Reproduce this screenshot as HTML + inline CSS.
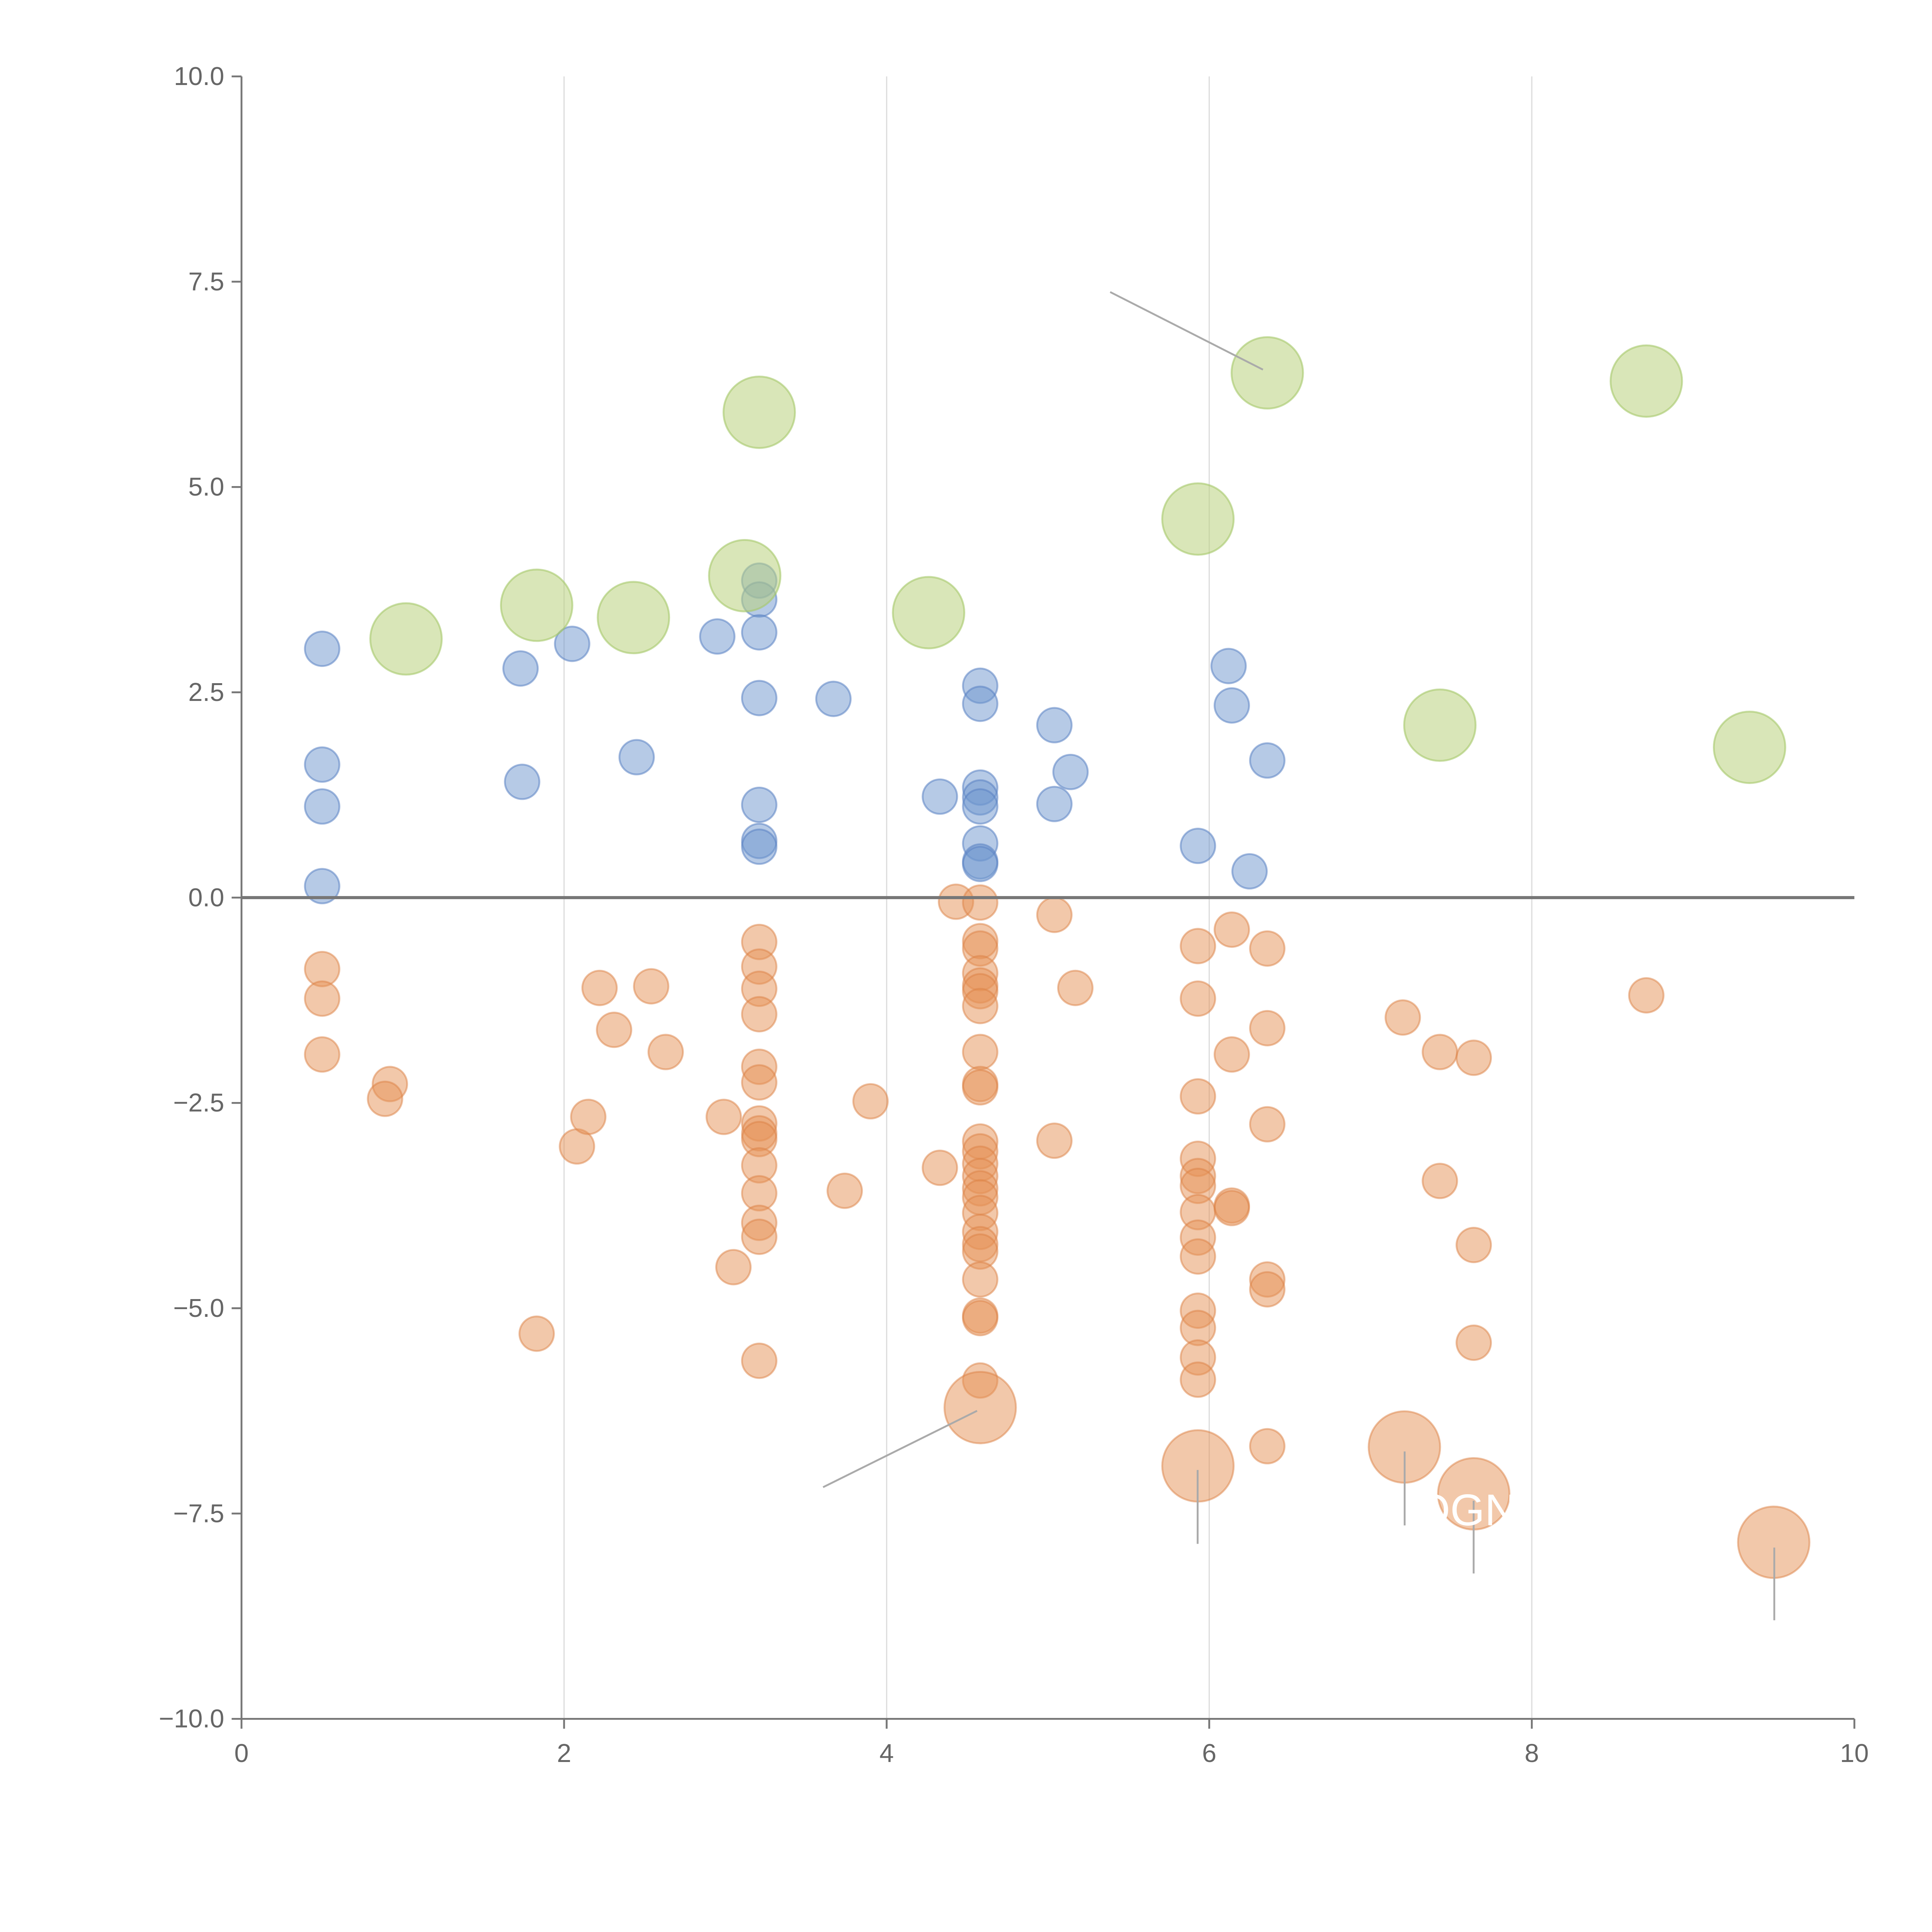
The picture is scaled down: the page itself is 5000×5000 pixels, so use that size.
<!DOCTYPE html>
<html><head><meta charset="utf-8"><style>
html,body{margin:0;padding:0;background:#fff;width:5000px;height:5000px;overflow:hidden}
svg{display:block}
text{font-family:"Liberation Sans",sans-serif;fill:#666}
</style></head><body>
<svg id="chart" width="5000" height="5000" viewBox="0 0 1568 1568" xmlns="http://www.w3.org/2000/svg">
<g id="grid"></g>
<g id="marks"></g>
<g id="annot"></g>
<g id="axes"></g>
</svg>
<script>
const xTicks=[0,2,4,6,8,10];
const yTicks=[10,7.5,5,2.5,0,-2.5,-5,-7.5,-10];
const blueX=[0.5,0.5,0.5,0.5,1.73,1.74,2.05,2.45,2.95,3.21,3.21,3.21,3.21,3.21,3.21,3.21,3.67,4.33,4.58,4.58,4.58,4.58,4.58,4.58,4.58,4.58,5.04,5.04,5.14,5.93,6.12,6.14,6.25,6.36];
const blueY=[3.03,1.62,1.11,0.14,2.79,1.41,3.09,1.71,3.18,3.86,3.63,3.23,2.43,1.13,0.69,0.62,2.42,1.23,2.58,2.36,1.34,1.22,1.11,0.66,0.44,0.41,2.10,1.14,1.53,0.63,2.82,2.34,0.32,1.67];
const orangeX=[0.5,0.5,0.5,0.92,0.89,1.83,2.08,2.15,2.22,2.31,2.54,2.63,2.99,3.05,
3.21,3.21,3.21,3.21,3.21,3.21,3.21,
3.21,3.21,3.21,3.21,3.21,3.21,3.21,
3.74,3.90,4.33,4.43,
4.58,4.58,4.58,4.58,4.58,4.58,
4.58,4.58,4.58,4.58,4.58,4.58,
4.58,4.58,4.58,4.58,4.58,4.58,
4.58,4.58,4.58,4.58,4.58,4.58,
5.04,5.04,5.17,
5.93,5.93,5.93,5.93,5.93,5.93,5.93,
5.93,5.93,5.93,5.93,5.93,5.93,
6.14,6.14,6.14,6.14,
6.36,6.36,6.36,6.36,6.36,6.36,
7.20,7.43,7.43,7.64,7.64,7.64,8.71];
const orangeY=[-0.87,-1.23,-1.91,-2.27,-2.45,-5.31,-3.03,-2.67,-1.10,-1.61,-1.08,-1.88,-2.67,-4.50,
-0.54,-0.84,-1.11,-1.42,-2.06,-2.25,-2.75,
-2.87,-2.94,-3.26,-3.60,-3.96,-4.13,-5.64,
-3.57,-2.48,-3.29,-0.05,
-0.06,-0.53,-0.62,-0.92,-1.07,-1.14,
-1.32,-1.88,-2.27,-2.31,-2.97,-3.09,
-3.24,-3.39,-3.54,-3.65,-3.84,-4.07,
-4.22,-4.31,-4.65,-5.09,-5.12,-5.88,
-0.21,-2.96,-1.10,
-0.59,-1.23,-2.42,-3.18,-3.39,-3.51,-3.83,
-4.14,-4.37,-5.03,-5.24,-5.60,-5.87,
-0.39,-1.91,-3.75,-3.78,
-0.62,-1.59,-2.76,-4.65,-4.77,-6.68,
-1.46,-1.88,-3.45,-1.95,-4.23,-5.42,-1.19];
const bigOrangeX=[4.58,5.93,7.21,7.64,9.50];
const bigOrangeY=[-6.21,-6.92,-6.69,-7.26,-7.85];
const greenX=[1.02,1.83,2.43,3.12,3.21,4.26,5.93,6.36,7.43,8.71,9.35];
const greenY=[3.15,3.56,3.41,3.92,5.91,3.47,4.61,6.39,2.10,6.29,1.83];

const NS="http://www.w3.org/2000/svg";
const X0=196,X1=1505,Y0=1395,Y1=62;
const sx=v=>X0+(v-0)/(10-0)*(X1-X0);
const sy=v=>Y0-(v+10)/20*(Y0-Y1);
function mk(tag,attrs,parent){const e=document.createElementNS(NS,tag);for(const k in attrs)e.setAttribute(k,attrs[k]);parent.appendChild(e);return e;}
const grid=document.getElementById('grid'),marks=document.getElementById('marks'),annot=document.getElementById('annot'),axes=document.getElementById('axes');

[2,4,6,8].forEach(v=>{const l=mk('line',{x1:sx(v),x2:sx(v),y1:Y1,y2:Y0,stroke:'#ddd','stroke-width':1},grid);

});

function dots(xs,ys,r,fill,stroke,name){xs.forEach((x,i)=>{const c=mk('circle',{cx:sx(x),cy:sy(ys[i]),r:r,fill:fill,stroke:stroke,'stroke-width':1.5},marks);

});}
dots(blueX,blueY,14,'rgba(110,150,205,0.5)','rgba(90,130,195,0.55)','blue-point');
dots(orangeX,orangeY,14,'rgba(230,145,85,0.5)','rgba(220,130,70,0.5)','orange-point');
dots(bigOrangeX,bigOrangeY,29,'rgba(230,145,85,0.5)','rgba(220,130,70,0.5)','large-orange-point');
dots(greenX,greenY,29,'rgba(185,210,125,0.55)','rgba(165,200,105,0.6)','green-point');

const z=mk('line',{x1:X0,x2:X1,y1:sy(0),y2:sy(0),stroke:'#777','stroke-width':2.5},axes);



[[901,237,1025,300],[668,1207,793,1145],[972,1193,972,1253],[1140,1178,1140,1238],[1196,1218,1196,1277],[1440,1256,1440,1315]].forEach(p=>{
const l=mk('line',{x1:p[0],y1:p[1],x2:p[2],y2:p[3],stroke:'#aaa','stroke-width':1.5},annot);

});
const t=mk('text',{x:1190,y:1238,'font-size':36,'text-anchor':'middle',style:'fill:#fff'},annot);
t.textContent='OGN';



const ya=mk('line',{x1:X0,x2:X0,y1:Y1,y2:Y0,stroke:'#777','stroke-width':1.5},axes);


const xa=mk('line',{x1:X0,x2:X1,y1:Y0,y2:Y0,stroke:'#777','stroke-width':1.5},axes);


yTicks.forEach(v=>{const y=sy(v);
const tk=mk('line',{x1:X0-8,x2:X0,y1:y,y2:y,stroke:'#777','stroke-width':1.5},axes);


const tx=mk('text',{x:X0-14,y:y+7,'font-size':21,'text-anchor':'end'},axes);
tx.textContent=(v<0?'\u2212':'')+Math.abs(v).toFixed(1);

});
xTicks.forEach(v=>{const x=sx(v);
const tk=mk('line',{x1:x,x2:x,y1:Y0,y2:Y0+8,stroke:'#777','stroke-width':1.5},axes);


const tx=mk('text',{x:x,y:Y0+35,'font-size':21,'text-anchor':'middle'},axes);
tx.textContent=String(v);

});
</script>
</body></html>
